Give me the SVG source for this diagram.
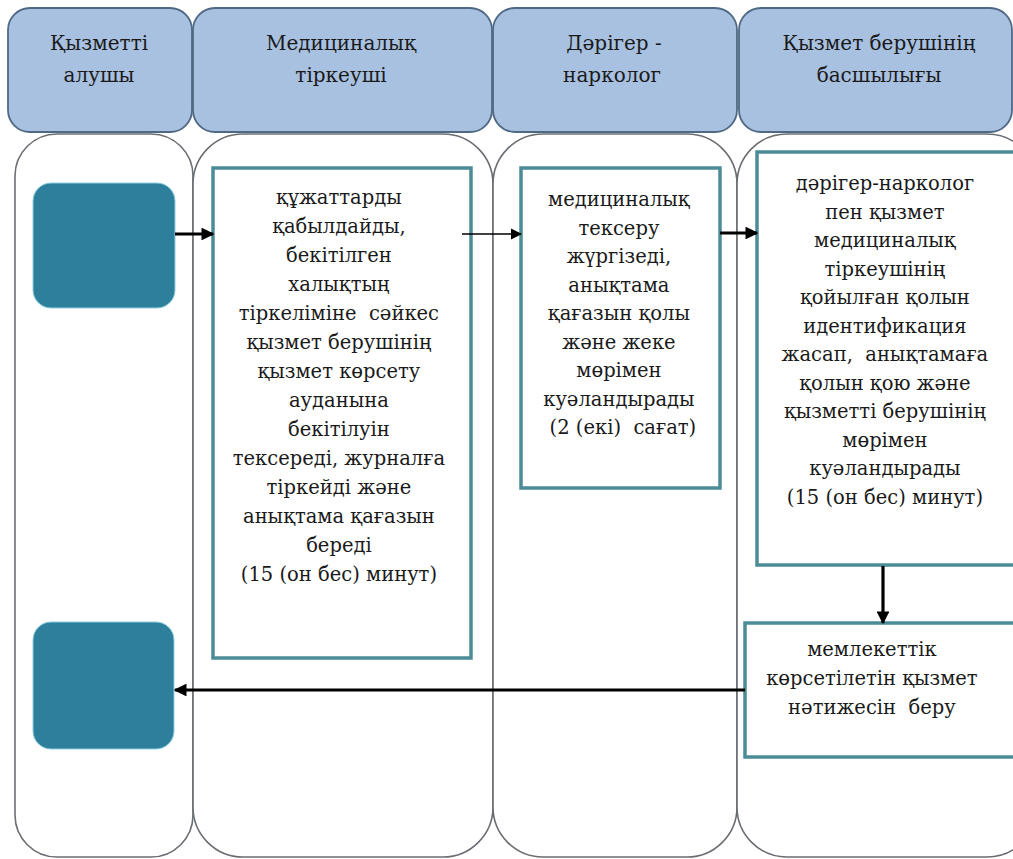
<svg xmlns="http://www.w3.org/2000/svg" width="1013" height="859" viewBox="0 0 1013 859">
<defs>
<style>
.hdr{fill:#a8c1e0;stroke:#4f6984;stroke-width:1.8}
.lane{fill:#ffffff;stroke:#6a6d72;stroke-width:1.6}
.term{fill:#2e7f9b;stroke:#8fd0e0;stroke-width:1}
.box{fill:#ffffff;stroke:#4b8c97;stroke-width:3.5}
.t{font-family:'DejaVu Serif','Liberation Serif',serif;font-size:19.5px;fill:#1a1a1a;text-anchor:middle;white-space:pre}
.h{font-size:20px}
.c{stroke:#000;fill:none}
</style>
<marker id="ah" viewBox="0 0 10 10" refX="9" refY="5" markerWidth="4" markerHeight="4" orient="auto" markerUnits="strokeWidth"><path d="M0,0 L10,5 L0,10 z" fill="#000"/></marker>
<marker id="ahs" viewBox="0 0 10 10" refX="9" refY="5" markerWidth="7" markerHeight="7" orient="auto" markerUnits="strokeWidth"><path d="M0,0 L10,5 L0,10 z" fill="#000"/></marker>
</defs>
<rect width="1013" height="859" fill="#ffffff"/>
<g id="lanes">
<rect class="lane" x="15" y="134" width="178" height="723" rx="42"/>
<rect class="lane" x="193" y="134" width="300" height="723" rx="50"/>
<rect class="lane" x="493" y="134" width="244" height="723" rx="50"/>
<rect class="lane" x="737" y="134" width="300" height="723" rx="50"/>
</g>
<g id="header-1"><rect class="hdr" x="8" y="8" width="184" height="124" rx="22"/><text class="t h" x="99" y="50">Қызметті</text><text class="t h" x="99" y="82">алушы</text></g>
<g id="header-2"><rect class="hdr" x="193" y="8" width="299" height="124" rx="22"/><text class="t h" x="341" y="50">Медициналық</text><text class="t h" x="341" y="82">тіркеуші</text></g>
<g id="header-3"><rect class="hdr" x="493" y="8" width="244" height="124" rx="22"/><text class="t h" x="614" y="50">Дәрігер -</text><text class="t h" x="612" y="82">нарколог</text></g>
<g id="header-4"><rect class="hdr" x="739" y="8" width="273" height="124" rx="22"/><text class="t h" x="879" y="50">Қызмет берушінің</text><text class="t h" x="879" y="82">басшылығы</text></g>
<g id="start"><rect class="term" x="33" y="183" width="142" height="125" rx="18"/></g>
<g id="end"><rect class="term" x="33" y="622" width="141" height="127" rx="18"/></g>
<g id="step-1"><rect class="box" x="213" y="168" width="258" height="490"/>
<text class="t">
<tspan x="342" y="204">құжаттарды</tspan>
<tspan x="342" y="233">қабылдайды,</tspan>
<tspan x="342" y="262">бекітілген</tspan>
<tspan x="342" y="291">халықтың</tspan>
<tspan x="342" y="320">тіркеліміне  сәйкес</tspan>
<tspan x="342" y="349">қызмет берушінің</tspan>
<tspan x="342" y="378">қызмет көрсету</tspan>
<tspan x="342" y="407">ауданына</tspan>
<tspan x="342" y="436">бекітілуін</tspan>
<tspan x="342" y="465">тексереді, журналға</tspan>
<tspan x="342" y="494">тіркейді және</tspan>
<tspan x="342" y="523">анықтама қағазын</tspan>
<tspan x="342" y="552">береді</tspan>
<tspan x="342" y="581">(15 (он бес) минут)</tspan>
</text></g>
<g id="step-2"><rect class="box" x="521" y="168" width="199" height="320"/>
<text class="t">
<tspan x="622" y="206">медициналық</tspan>
<tspan x="622" y="234.5">тексеру</tspan>
<tspan x="622" y="263">жүргізеді,</tspan>
<tspan x="622" y="291.5">анықтама</tspan>
<tspan x="622" y="320">қағазын қолы</tspan>
<tspan x="622" y="348.5">және жеке</tspan>
<tspan x="622" y="377">мөрімен</tspan>
<tspan x="622" y="405.5">куәландырады</tspan>
<tspan x="626" y="434">(2 (екі)  сағат)</tspan>
</text></g>
<g id="step-3"><rect class="box" x="757" y="152" width="264" height="413"/>
<text class="t">
<tspan x="888" y="190">дәрігер-нарколог</tspan>
<tspan x="888" y="218.5">пен қызмет</tspan>
<tspan x="888" y="247">медициналық</tspan>
<tspan x="888" y="275.5">тіркеушінің</tspan>
<tspan x="888" y="304">қойылған қолын</tspan>
<tspan x="888" y="332.5">идентификация</tspan>
<tspan x="888" y="361">жасап,  анықтамаға</tspan>
<tspan x="888" y="389.5">қолын қою және</tspan>
<tspan x="888" y="418">қызметті берушінің</tspan>
<tspan x="888" y="446.5">мөрімен</tspan>
<tspan x="888" y="475">куәландырады</tspan>
<tspan x="888" y="503.5">(15 (он бес) минут)</tspan>
</text></g>
<g id="step-4"><rect class="box" x="745" y="623" width="276" height="134"/>
<text class="t">
<tspan x="875" y="656">мемлекеттік</tspan>
<tspan x="875" y="685">көрсетілетін қызмет</tspan>
<tspan x="875" y="714">нәтижесін  беру</tspan>
</text></g>
<g id="connectors">
<line class="c" x1="175" y1="234" x2="213" y2="234" stroke-width="3.2" marker-end="url(#ah)"/>
<line class="c" x1="462" y1="234" x2="521" y2="234" stroke-width="1.6" marker-end="url(#ahs)"/>
<line class="c" x1="720" y1="233" x2="757" y2="233" stroke-width="3.2" marker-end="url(#ah)"/>
<line class="c" x1="883" y1="566" x2="883" y2="623" stroke-width="3.2" marker-end="url(#ah)"/>
<line class="c" x1="745" y1="690" x2="175" y2="690" stroke-width="3.2" marker-end="url(#ah)"/>
</g>
</svg>
